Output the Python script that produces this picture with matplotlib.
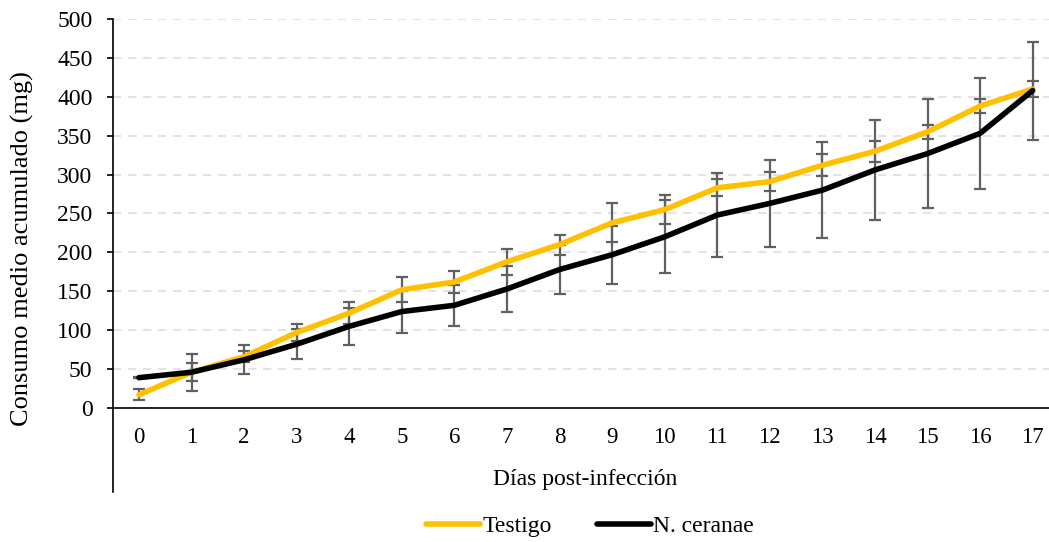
import numpy as np
import matplotlib
matplotlib.use("Agg")
import matplotlib.pyplot as plt

# data
dias = list(range(18))
testigo = [17, 46, 66, 97, 122, 152, 162, 188, 210, 238, 255, 283, 291, 312, 330, 355, 388, 410]
testigo_err = [7, 11.5, 7, 11, 14, 16, 14.5, 17, 13, 25, 18.5, 11, 12, 14, 13.5, 9, 9, 10]
ceranae = [39, 46, 62, 82, 105, 124, 132, 153, 178, 197, 220, 248, 263, 280, 306, 327, 353, 408]
ceranae_err = [1, 24, 18.5, 19, 24, 27, 26, 30, 31, 37, 47, 54, 55.5, 62, 64, 70, 71.5, 63]
y_ticks = list(range(0, 501, 50))

plt.rcParams['font.family'] = ['Liberation Serif', 'DejaVu Serif']

fig = plt.figure(figsize=(10.49, 5.42), dpi=100)
ax = fig.add_axes([0.1074, 0.2472, 1.0095 - 0.1074, 0.965 - 0.2472])

err_kw = dict(fmt='none', ecolor='#606060', elinewidth=1.6, capsize=4.5, capthick=1.6, zorder=2)
ax.errorbar(dias, testigo, yerr=testigo_err, **err_kw)
ax.errorbar(dias, ceranae, yerr=ceranae_err, **err_kw)
ax.plot(dias, testigo, color='#FFC000', lw=4, solid_capstyle='round', label='Testigo', zorder=3)
ax.plot(dias, ceranae, color='black', lw=4, solid_capstyle='round', label='N. ceranae', zorder=4)

ax.set_xlim(-0.5, 17.5)
ax.set_ylim(0, 500)
ax.set_yticks(y_ticks)
ax.set_xticks(dias)
ax.tick_params(axis='y', labelsize=17, length=4.5, width=1.2, pad=10)
ax.tick_params(axis='x', labelsize=16.5, length=0, pad=14)
for y in y_ticks[1:]:
    ax.axhline(y, color='#DEDEDE', lw=1.2, ls=(0, (5, 4)), zorder=1)

for s in ['top', 'right']:
    ax.spines[s].set_visible(False)
ax.spines['left'].set_linewidth(1.2)
ax.spines['bottom'].set_linewidth(1.2)
# left axis line goes on under the category labels
ax.plot([0, 0], [0, -0.216], transform=ax.transAxes, color='black', lw=1.2, clip_on=False)

fig.text(22 / 1049, 1 - 249 / 542, 'Consumo medio acumulado (mg)', fontsize=19,
         rotation=90, ha='center', va='center')
fig.text(585 / 1049, 1 - 480 / 542, 'Días post-infección', fontsize=17, ha='center', va='center')

fig.legend(loc='center', bbox_to_anchor=(590 / 1049, 1 - 526 / 542), ncol=2, frameon=False,
           fontsize=17, handlelength=2.3, handletextpad=0.1, columnspacing=1.9)

fig.savefig('out.png', dpi=100)
